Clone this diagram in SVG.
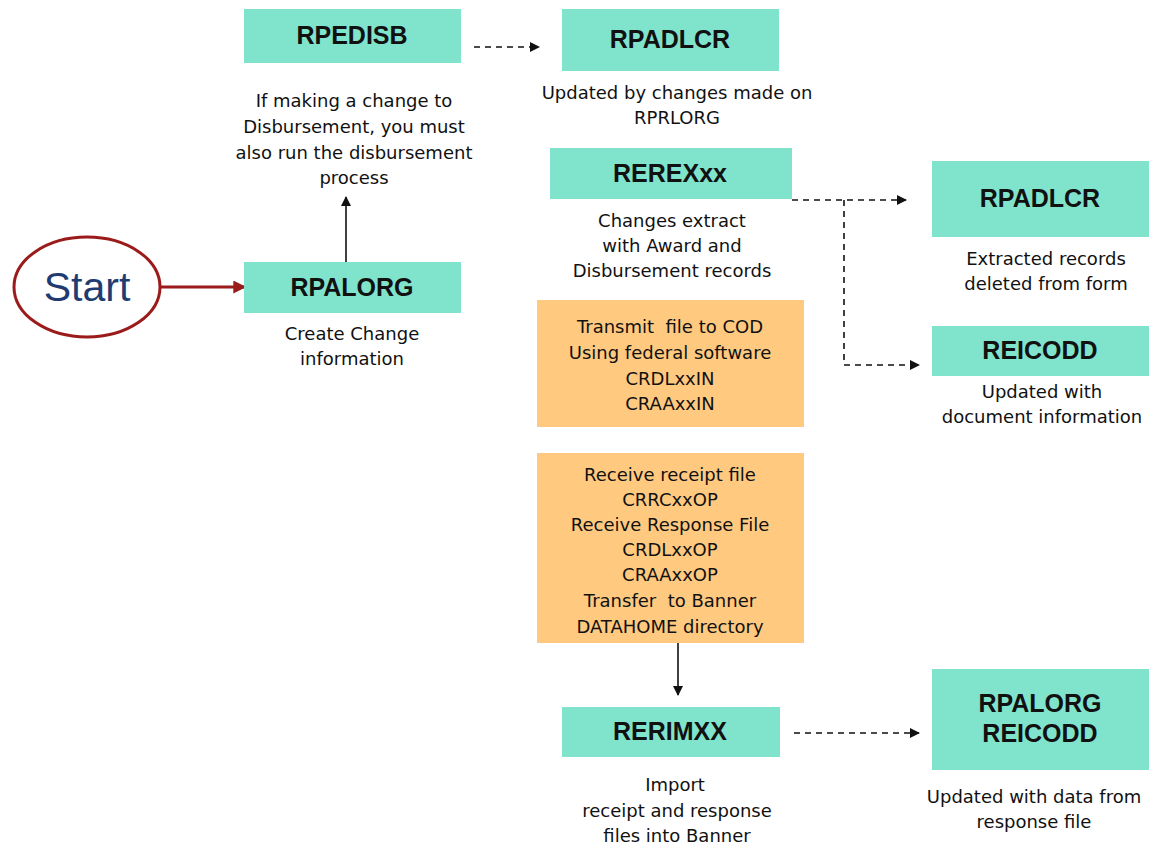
<svg xmlns="http://www.w3.org/2000/svg" width="1151" height="846" viewBox="0 0 1151 846">
  <style>
    .proc { fill: #80E4CC; }
    .file { fill: #FFC980; }
    .title { font-family: "Liberation Sans", Arial, sans-serif; font-weight: bold; font-size: 25px; fill: #111; text-anchor: middle; }
    .note { font-family: "DejaVu Sans", Verdana, sans-serif; font-size: 18px; fill: #111; text-anchor: middle; }
    .solid { stroke: #111; stroke-width: 1.6; fill: none; }
    .dash { stroke: #111; stroke-width: 1.6; fill: none; stroke-dasharray: 6 5; }
  </style>
  <defs>
    <marker id="ah" viewBox="0 0 10 10" refX="9" refY="5" markerWidth="11" markerHeight="10" markerUnits="userSpaceOnUse" orient="auto">
      <path d="M0,0 L10,5 L0,10 z" fill="#111"/>
    </marker>
    <marker id="ahRed" viewBox="0 0 10 10" refX="9" refY="5" markerWidth="14" markerHeight="13" markerUnits="userSpaceOnUse" orient="auto">
      <path d="M0,0 L10,5 L0,10 z" fill="#9B1B1B"/>
    </marker>
  </defs>

  <rect width="1151" height="846" fill="#FFFFFF"/>

  <!-- connectors -->
  <g id="connectors">
    <line x1="160" y1="287" x2="245" y2="287" stroke="#9B1B1B" stroke-width="3" marker-end="url(#ahRed)"/>
    <line class="solid" x1="346" y1="262" x2="346" y2="197" marker-end="url(#ah)"/>
    <line class="dash" x1="474" y1="47" x2="539" y2="47" marker-end="url(#ah)"/>
    <polyline class="dash" points="792,200 906,200" marker-end="url(#ah)"/>
    <polyline class="dash" points="844,200 844,365 919,365" marker-end="url(#ah)"/>
    <line class="solid" x1="678" y1="643" x2="678" y2="695" marker-end="url(#ah)"/>
    <line class="dash" x1="794" y1="733" x2="919" y2="733" marker-end="url(#ah)"/>
  </g>

  <!-- start -->
  <g id="start">
    <ellipse cx="87" cy="287" rx="73" ry="50" fill="#FFFFFF" stroke="#9B1B1B" stroke-width="3"/>
    <text x="87" y="301" font-family="Liberation Sans, Arial, sans-serif" font-size="41" fill="#1F3C72" text-anchor="middle">Start</text>
  </g>

  <g id="rpalorg">
    <rect class="proc" x="244" y="262" width="217" height="51"/>
    <text class="title" x="352" y="296">RPALORG</text>
    <text class="note" x="352" y="340">Create Change</text>
    <text class="note" x="352" y="365">information</text>
  </g>

  <g id="rpedisb">
    <rect class="proc" x="244" y="9" width="217" height="54"/>
    <text class="title" x="352" y="44">RPEDISB</text>
    <text class="note" x="354" y="107">If making a change to</text>
    <text class="note" x="354" y="133">Disbursement, you must</text>
    <text class="note" x="354" y="159">also run the disbursement</text>
    <text class="note" x="354" y="184">process</text>
  </g>

  <g id="rpadlcr-top">
    <rect class="proc" x="562" y="9" width="217" height="62"/>
    <text class="title" x="670" y="48">RPADLCR</text>
    <text class="note" x="677" y="99">Updated by changes made on</text>
    <text class="note" x="677" y="124">RPRLORG</text>
  </g>

  <g id="rerexxx">
    <rect class="proc" x="550" y="148" width="242" height="51"/>
    <text class="title" x="670" y="182">REREXxx</text>
    <text class="note" x="672" y="227">Changes extract</text>
    <text class="note" x="672" y="252">with Award and</text>
    <text class="note" x="672" y="277">Disbursement records</text>
  </g>

  <g id="rpadlcr-right">
    <rect class="proc" x="932" y="161" width="217" height="76"/>
    <text class="title" x="1040" y="207">RPADLCR</text>
    <text class="note" x="1046" y="265">Extracted records</text>
    <text class="note" x="1046" y="290">deleted from form</text>
  </g>

  <g id="reicodd">
    <rect class="proc" x="932" y="326" width="217" height="50"/>
    <text class="title" x="1040" y="359">REICODD</text>
    <text class="note" x="1042" y="398">Updated with</text>
    <text class="note" x="1042" y="423">document information</text>
  </g>

  <g id="transmit">
    <rect class="file" x="537" y="300" width="267" height="127"/>
    <text class="note" x="670" y="333">Transmit&#160; file to COD</text>
    <text class="note" x="670" y="359">Using federal software</text>
    <text class="note" x="670" y="385">CRDLxxIN</text>
    <text class="note" x="670" y="410">CRAAxxIN</text>
  </g>

  <g id="receive">
    <rect class="file" x="537" y="453" width="267" height="190"/>
    <text class="note" x="670" y="481">Receive receipt file</text>
    <text class="note" x="670" y="506">CRRCxxOP</text>
    <text class="note" x="670" y="531">Receive Response File</text>
    <text class="note" x="670" y="556">CRDLxxOP</text>
    <text class="note" x="670" y="581">CRAAxxOP</text>
    <text class="note" x="670" y="607">Transfer&#160; to Banner</text>
    <text class="note" x="670" y="633">DATAHOME directory</text>
  </g>

  <g id="rerimxx">
    <rect class="proc" x="562" y="707" width="218" height="50"/>
    <text class="title" x="670" y="740">RERIMXX</text>
    <text class="note" x="675" y="791">Import</text>
    <text class="note" x="677" y="817">receipt and response</text>
    <text class="note" x="677" y="842">files into Banner</text>
  </g>

  <g id="rpalorg-reicodd">
    <rect class="proc" x="932" y="669" width="217" height="101"/>
    <text class="title" x="1040" y="712">RPALORG</text>
    <text class="title" x="1040" y="742">REICODD</text>
    <text class="note" x="1034" y="803">Updated with data from</text>
    <text class="note" x="1034" y="828">response file</text>
  </g>
</svg>
